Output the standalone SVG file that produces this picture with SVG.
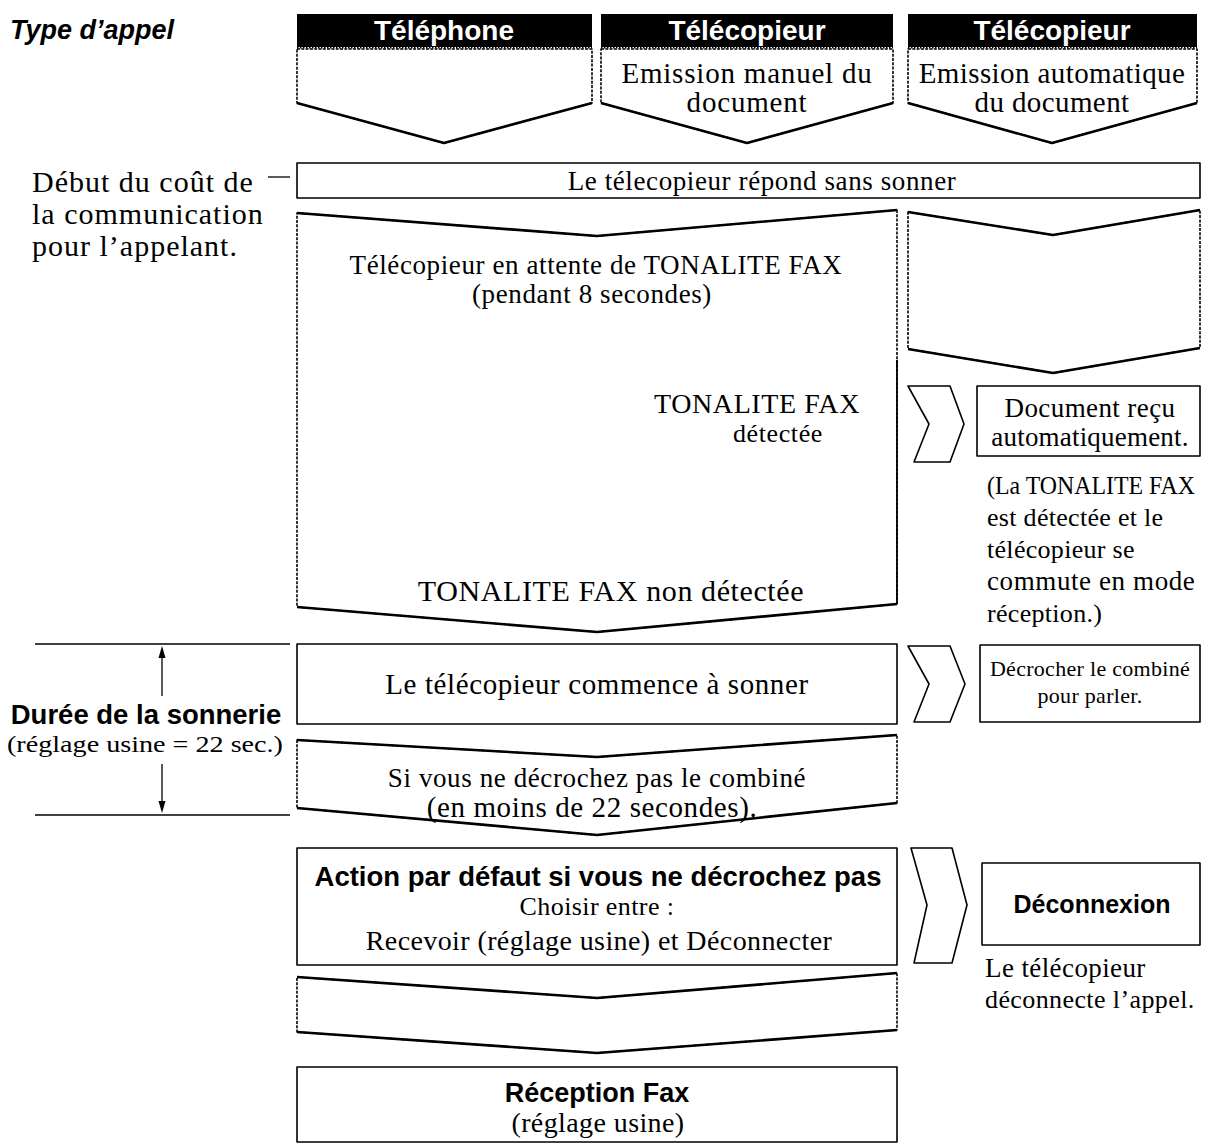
<svg xmlns="http://www.w3.org/2000/svg" width="1212" height="1146" viewBox="0 0 1212 1146">
<defs>
<style>
.sh{fill:#fff;stroke:#000;stroke-width:1.6;stroke-linejoin:round}
.sd{fill:#fff;stroke:#000;stroke-width:1.6;stroke-linejoin:round;stroke-dasharray:3 1.3}
.vk{fill:none;stroke:#000;stroke-width:2.6;stroke-linejoin:round}
.hb{fill:#000}
.dot{stroke:#000;stroke-width:2;stroke-dasharray:1.5 1.5}
.ht{font-family:"Liberation Sans",Arial,sans-serif;font-weight:bold;font-size:28px;fill:#fff;text-anchor:middle}
.sf{font-family:"Liberation Serif","Times New Roman",serif;fill:#000}
.sfc{font-family:"Liberation Serif","Times New Roman",serif;fill:#000;text-anchor:middle}
.sb{font-family:"Liberation Sans",Arial,sans-serif;font-weight:bold;fill:#000;text-anchor:middle}
.ln{stroke:#000;stroke-width:1.3;fill:none}
.ar{fill:#000}
</style>
</defs>

<text x="10" y="39" style="font-family:'Liberation Sans',Arial,sans-serif;font-weight:bold;font-style:italic;font-size:27px">Type d’appel</text>

<g id="col-telephone">
<rect class="hb" x="297" y="14" width="295" height="33"/>
<line class="dot" x1="297" y1="47.5" x2="592" y2="47.5"/>
<polygon class="sd" points="297,49 592,49 592,103 444,143 297,103"/>
<polyline class="vk" points="297,103 444,143 592,103"/>
<text class="ht" x="444" y="40">Téléphone</text>
</g>

<g id="col-fax-manuel">
<rect class="hb" x="601" y="14" width="292" height="33"/>
<line class="dot" x1="601" y1="47.5" x2="893" y2="47.5"/>
<polygon class="sd" points="601,49 893,49 893,103 747,143 601,103"/>
<polyline class="vk" points="601,103 747,143 893,103"/>
<text class="ht" x="747" y="40">Télécopieur</text>
<text class="sfc" x="747" y="83" style="font-size:29px;letter-spacing:0.8px">Emission manuel du</text>
<text class="sfc" x="747" y="112" style="font-size:29px;letter-spacing:0.8px">document</text>
</g>

<g id="col-fax-auto">
<rect class="hb" x="908" y="14" width="289" height="33"/>
<line class="dot" x1="908" y1="47.5" x2="1197" y2="47.5"/>
<polygon class="sd" points="908,49 1197,49 1197,103 1052,143 908,103"/>
<polyline class="vk" points="908,103 1052,143 1197,103"/>
<text class="ht" x="1052" y="40">Télécopieur</text>
<text class="sfc" x="1052" y="83" style="font-size:29px;letter-spacing:0.4px">Emission automatique</text>
<text class="sfc" x="1052" y="112" style="font-size:29px;letter-spacing:0.4px">du document</text>
</g>

<g id="note-debut">
<text class="sf" x="32" y="192" style="font-size:30px;letter-spacing:1px">Début du coût de</text>
<text class="sf" x="32" y="224" style="font-size:30px;letter-spacing:1px">la communication</text>
<text class="sf" x="32" y="256" style="font-size:30px;letter-spacing:1px">pour l’appelant.</text>
</g>

<g id="repond">
<rect class="sh" x="297" y="163" width="903" height="35"/>
<text class="sfc" x="762" y="190" style="font-size:27px;letter-spacing:0.6px">Le télecopieur répond sans sonner</text>
</g>

<g id="attente">
<polygon class="sd" points="297,213 597,236 897,210 897,604 597,632 297,607"/>
<polyline class="vk" points="297,213 597,236 897,210"/>
<polyline class="vk" points="297,607 597,632 897,604"/>
<line class="ln" x1="897" y1="360" x2="897" y2="604" style="stroke-width:1.8"/>
<text class="sfc" x="596" y="274" style="font-size:27px;letter-spacing:0.6px">Télécopieur en attente de TONALITE FAX</text>
<text class="sfc" x="592" y="303" style="font-size:27px;letter-spacing:0.6px">(pendant 8 secondes)</text>
<text class="sfc" x="757" y="413" style="font-size:28px;letter-spacing:0.6px">TONALITE FAX</text>
<text class="sfc" x="778" y="442" style="font-size:26px;letter-spacing:0.6px">détectée</text>
<text class="sfc" x="611" y="601" style="font-size:30px;letter-spacing:0.6px">TONALITE FAX non détectée</text>
</g>

<g id="auto-arrow">
<polygon class="sd" points="908,212 1053,235 1200,210 1200,348 1053,373 908,349"/>
<polyline class="vk" points="908,212 1053,235 1200,210"/>
<polyline class="vk" points="908,349 1053,373 1200,348"/>
</g>

<g id="doc-recu">
<rect class="sh" x="977" y="386" width="223" height="70"/>
<text class="sfc" x="1090" y="417" style="font-size:27px;letter-spacing:0.4px">Document reçu</text>
<text class="sfc" x="1090" y="446" style="font-size:27px;letter-spacing:0.2px">automatiquement.</text>
</g>

<g id="note-tonalite">
<text class="sf" x="987" y="494" style="font-size:26px" textLength="208" lengthAdjust="spacingAndGlyphs">(La TONALITE FAX</text>
<text class="sf" x="987" y="526" style="font-size:26px;letter-spacing:0.3px">est détectée et le</text>
<text class="sf" x="987" y="558" style="font-size:26px;letter-spacing:0.3px">télécopieur se</text>
<text class="sf" x="987" y="590" style="font-size:27px;letter-spacing:0.6px">commute en mode</text>
<text class="sf" x="987" y="622" style="font-size:26px;letter-spacing:0.3px">réception.)</text>
</g>

<g id="duree">
<text class="sb" x="146" y="724" style="font-size:27.5px">Durée de la sonnerie</text>
<text class="sfc" x="145" y="752" style="font-size:23px" textLength="276" lengthAdjust="spacingAndGlyphs">(réglage usine = 22 sec.)</text>
</g>

<g id="sonner">
<rect class="sh" x="297" y="644" width="600" height="80"/>
<text class="sfc" x="597" y="694" style="font-size:29px;letter-spacing:0.6px">Le télécopieur commence à sonner</text>
</g>

<g id="decrocher">
<rect class="sh" x="980" y="645" width="220" height="77"/>
<text class="sfc" x="1090" y="676" style="font-size:22px;letter-spacing:0.3px">Décrocher le combiné</text>
<text class="sfc" x="1090" y="703" style="font-size:22px;letter-spacing:0.3px">pour parler.</text>
</g>

<g id="si-vous">
<polygon class="sd" points="297,740 597,757 897,735 897,803 597,835 297,808"/>
<polyline class="vk" points="297,740 597,757 897,735"/>
<polyline class="vk" points="297,808 597,835 897,803"/>
<text class="sfc" x="597" y="787" style="font-size:27px;letter-spacing:0.6px">Si vous ne décrochez pas le combiné</text>
<text class="sfc" x="592" y="817" style="font-size:29px;letter-spacing:0.6px">(en moins de 22 secondes).</text>
</g>

<g id="action">
<rect class="sh" x="297" y="848" width="600" height="117"/>
<text class="sb" x="598" y="886" style="font-size:27.5px">Action par défaut si vous ne décrochez pas</text>
<text class="sfc" x="597" y="915" style="font-size:26px;letter-spacing:0.4px">Choisir entre :</text>
<text class="sfc" x="599" y="950" style="font-size:28px;letter-spacing:0.4px">Recevoir (réglage usine) et Déconnecter</text>
</g>

<g id="deconnexion">
<rect class="sh" x="982" y="863" width="218" height="82"/>
<text class="sb" x="1092" y="913" style="font-size:25px">Déconnexion</text>
</g>

<g id="note-deconnecte">
<text class="sf" x="985" y="977" style="font-size:27px;letter-spacing:0.4px">Le télécopieur</text>
<text class="sf" x="985" y="1008" style="font-size:26px;letter-spacing:0.4px">déconnecte l’appel.</text>
</g>

<g id="vide">
<polygon class="sd" points="297,977 597,998 897,973 897,1030 597,1053 297,1032"/>
<polyline class="vk" points="297,977 597,998 897,973"/>
<polyline class="vk" points="297,1032 597,1053 897,1030"/>
</g>

<g id="reception">
<rect class="sh" x="297" y="1067" width="600" height="75"/>
<text class="sb" x="597" y="1102" style="font-size:27px">Réception Fax</text>
<text class="sfc" x="598" y="1132" style="font-size:28px;letter-spacing:0.4px">(réglage usine)</text>
</g>

<g id="connectors">
<line class="ln" x1="268" y1="177" x2="290" y2="177"/>
<line class="ln" x1="35" y1="644" x2="290" y2="644"/>
<line class="ln" x1="35" y1="815" x2="290" y2="815"/>
<line class="ln" x1="162" y1="696" x2="162" y2="656"/>
<polygon class="ar" points="162,646 158.5,658 165.5,658"/>
<line class="ln" x1="162" y1="764" x2="162" y2="803"/>
<polygon class="ar" points="162,813 158.5,801 165.5,801"/>
<polygon class="sh" points="908,386 950,386 964,424 950,462 914,462 929,424"/>
<polygon class="sh" points="908,646 950,646 965,684 950,722 914,722 929,684"/>
<polygon class="sh" points="911,848 952,848 967,905 952,963 914,963 927,905"/>
</g>
</svg>
